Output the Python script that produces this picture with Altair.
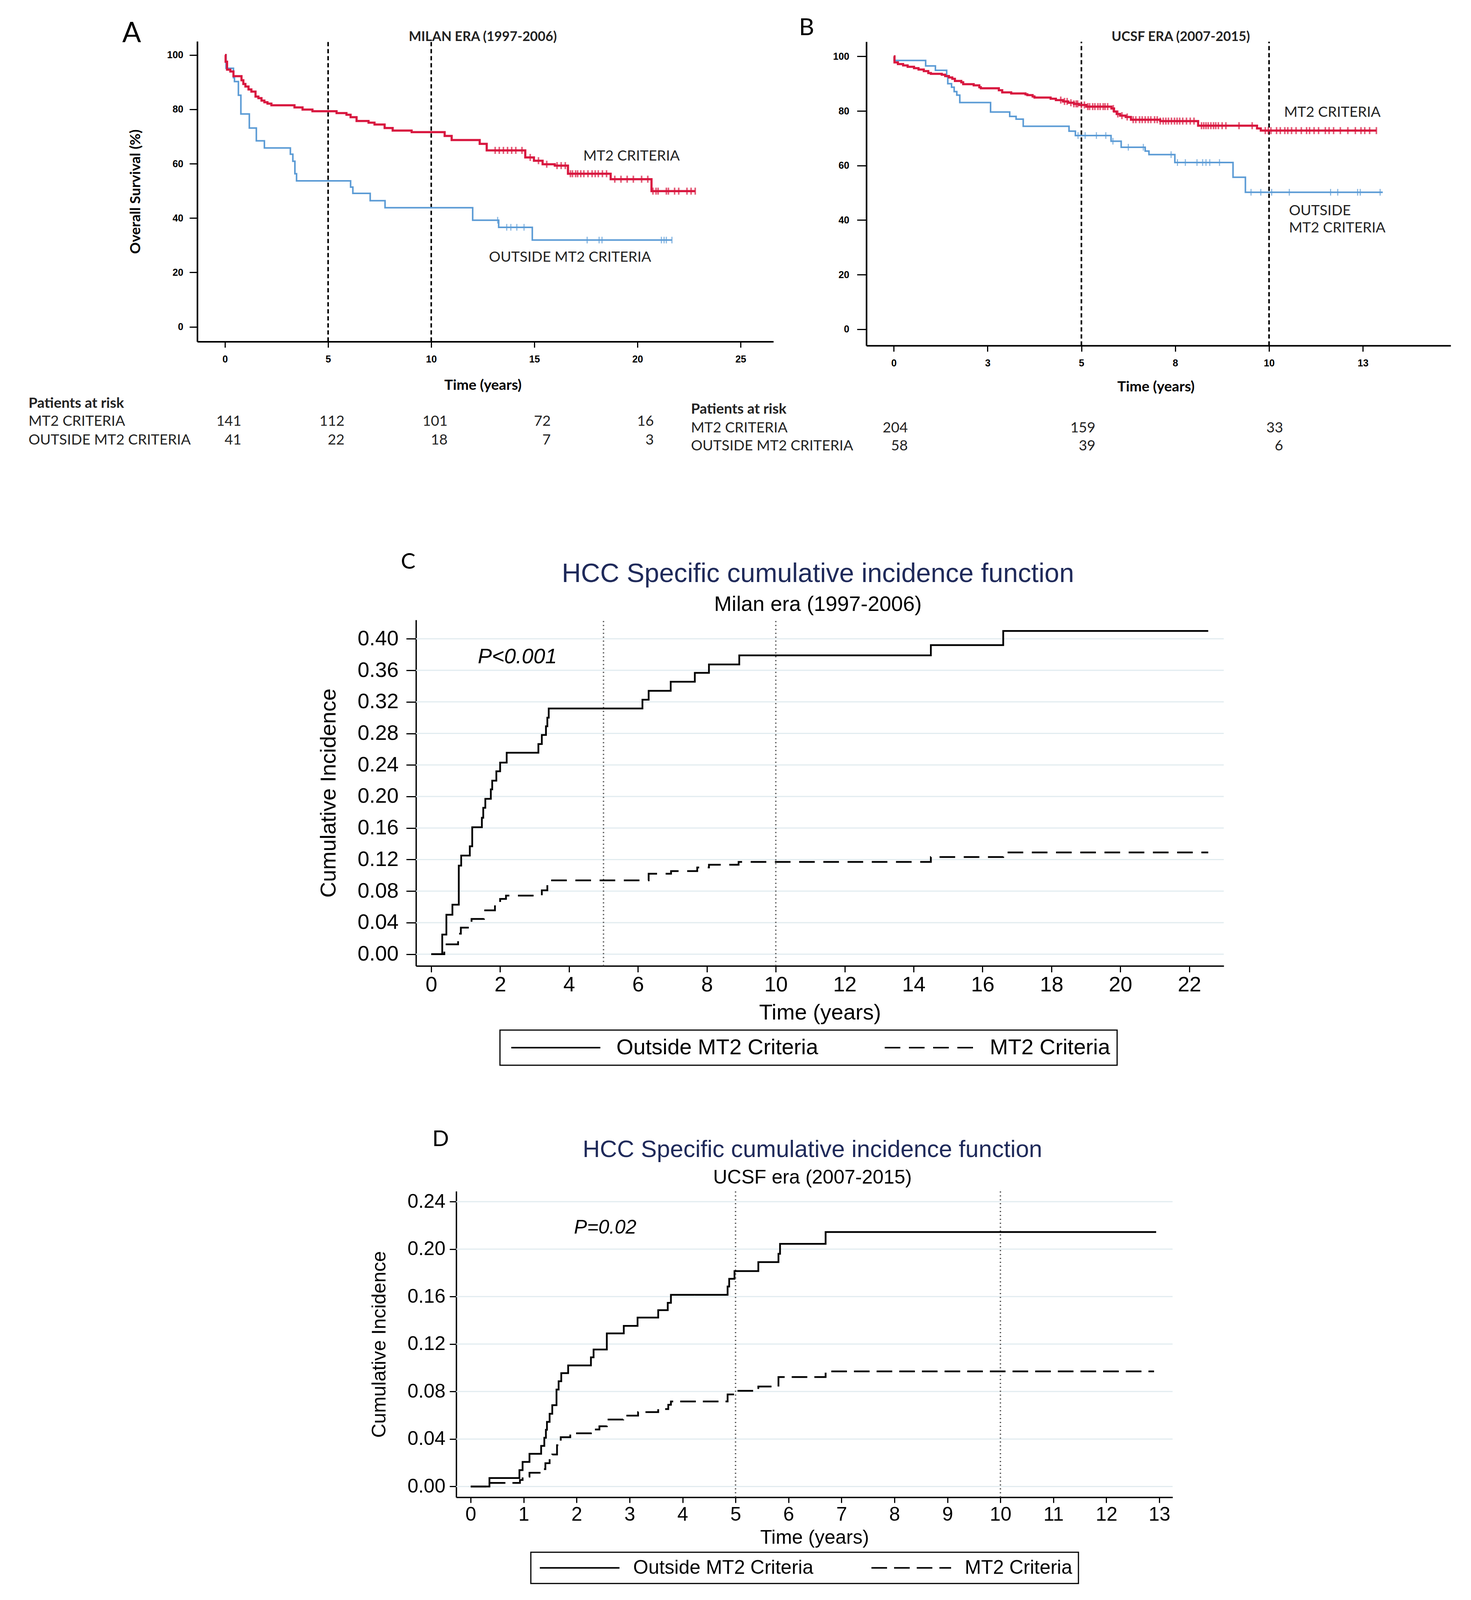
import altair as alt
import pandas as pd

# ---------------- data ----------------
MT2 = "MT2 CRITERIA"
OUT = "OUTSIDE MT2 CRITERIA"

# Panel A - Milan era (1997-2006): overall survival (%)
A_MT2_T = [0, 0.03, 0.10, 0.26, 0.41, 0.80, 0.89, 0.99, 1.14, 1.28, 1.48, 1.62, 1.77, 1.91, 2.06, 2.25,
           3.37, 3.76, 4.24, 5.41, 5.89, 6.09, 6.38, 6.96, 7.25, 7.74, 8.13, 9.05, 10.65, 10.99, 12.35,
           12.69, 14.56, 14.98, 15.40, 15.99, 16.63, 18.70, 20.68]
A_MT2_S = [100, 97.5, 94.6, 93.9, 92.2, 90.7, 89.3, 88.4, 87.3, 86.5, 84.7, 84.1, 83.2, 82.6, 82.1, 81.5,
           80.7, 79.9, 79.3, 78.6, 78.0, 77.1, 75.7, 75.1, 74.4, 73.1, 72.2, 71.6, 70.2, 68.7, 67.3,
           64.9, 62.3, 61.1, 59.8, 59.3, 56.3, 54.3, 49.9]
A_MT2_END = 22.8
A_MT2_CENS = [13.1, 13.3, 13.5, 13.7, 13.9, 14.1, 14.4, 14.8, 15.2, 15.6, 16.1, 16.3, 16.5, 16.75, 16.85,
              17.0, 17.1, 17.25, 17.4, 17.6, 17.8, 17.95, 18.1, 18.3, 18.5, 18.9, 19.2, 19.5, 19.8, 20.2,
              20.5, 20.75, 20.9, 21.0, 21.4, 21.5, 21.8, 22.0, 22.4, 22.6, 22.8]
A_OUT_T = [0, 0.05, 0.41, 0.46, 0.65, 0.77, 1.18, 1.52, 1.91, 3.17, 3.29, 3.39, 3.47, 6.09, 6.20, 7.04,
           7.76, 12.01, 13.27, 14.90]
A_OUT_S = [100, 95.1, 91.6, 90.2, 85.2, 78.3, 73.1, 68.4, 65.8, 63.5, 60.9, 56.3, 53.7, 51.4, 49.1, 46.4,
           43.8, 39.2, 36.6, 31.9]
A_OUT_END = 21.67
A_OUT_CENS = [13.22, 13.66, 13.86, 14.15, 14.5, 17.56, 18.14, 18.28, 21.16, 21.29, 21.4, 21.67]

# Panel B - UCSF era (2007-2015): overall survival (%)
B_MT2_T = [0, 0.02, 0.11, 0.25, 0.37, 0.54, 0.66, 0.80, 0.92, 0.99, 1.28, 1.37, 1.47, 1.56, 1.63, 1.80,
           1.85, 2.13, 2.28, 2.32, 2.80, 2.89, 3.13, 3.51, 3.56, 3.70, 3.75, 4.18, 4.32, 4.51, 4.65, 4.80,
           4.94, 5.13, 5.80, 5.87, 5.94, 6.03, 6.18, 6.32, 7.10, 8.11, 9.68, 9.78]
B_MT2_S = [100, 97.8, 97.2, 96.7, 96.2, 95.7, 95.2, 94.6, 93.9, 93.6, 93.3, 92.8, 92.3, 91.8, 91.0, 90.5,
           89.8, 89.4, 88.7, 88.3, 87.6, 86.8, 86.4, 86.1, 85.8, 85.3, 84.9, 84.5, 84.0, 83.5, 83.0, 82.6,
           82.2, 81.6, 80.9, 79.8, 78.9, 78.3, 77.8, 76.8, 76.3, 74.6, 73.6, 72.8]
B_MT2_END = 12.86
B_MT2_CENS = [4.45, 4.55, 4.62, 4.72, 4.8, 4.86, 4.9, 5.0, 5.08, 5.17, 5.22, 5.3, 5.36, 5.44, 5.5, 5.58,
              5.63, 5.7, 5.85, 5.97, 6.08, 6.22, 6.38, 6.45, 6.55, 6.62, 6.7, 6.78, 6.85, 6.95, 7.02, 7.1,
              7.18, 7.25, 7.32, 7.4, 7.48, 7.55, 7.62, 7.7, 7.8, 7.9, 8.0, 8.2, 8.26, 8.32, 8.38, 8.45,
              8.52, 8.58, 8.65, 8.75, 8.85, 9.2, 9.55, 9.9, 9.98, 10.05, 10.2, 10.3, 10.42, 10.5, 10.6,
              10.72, 10.86, 11.0, 11.08, 11.2, 11.32, 11.5, 11.6, 11.72, 11.9, 12.1, 12.3, 12.45, 12.55,
              12.68, 12.86]
B_OUT_T = [0, 0.01, 0.85, 1.11, 1.41, 1.44, 1.54, 1.61, 1.68, 1.76, 2.58, 3.09, 3.26, 3.45, 4.67, 4.84,
           5.79, 6.06, 6.70, 6.80, 7.49, 9.04, 9.37]
B_OUT_S = [100, 98.5, 96.5, 94.9, 92.6, 90.0, 88.7, 87.1, 85.8, 83.1, 79.6, 78.0, 77.0, 74.4, 72.6, 71.0,
           68.9, 66.7, 65.3, 64.0, 61.1, 55.7, 50.2]
B_OUT_END = 13.03
B_OUT_CENS = [4.91, 5.10, 5.40, 5.65, 5.84, 6.25, 6.65, 7.39, 7.56, 7.77, 8.08, 8.23, 8.32, 8.42, 8.68,
              9.52, 9.78, 10.07, 10.54, 11.64, 11.83, 12.36, 12.43, 12.96]

# Patients at risk
RISK_A_T = [0, 5, 10, 15, 20]
RISK_A_MT2 = [141, 112, 101, 72, 16]
RISK_A_OUT = [41, 22, 18, 7, 3]
RISK_B_T = [0, 5, 10]
RISK_B_MT2 = [204, 159, 33]
RISK_B_OUT = [58, 39, 6]

# Panel C - Milan era, HCC specific cumulative incidence
C_OUT_T = [0, 0.32, 0.44, 0.615, 0.80, 0.87, 1.12, 1.19, 1.47, 1.51, 1.57, 1.73, 1.77, 1.89, 2.0, 2.19,
           3.11, 3.21, 3.33, 3.37, 3.41, 6.13, 6.31, 6.95, 7.65, 8.06, 8.94, 14.5, 16.6]
C_OUT_V = [0, 0.0248, 0.050, 0.0628, 0.1123, 0.125, 0.1368, 0.161, 0.173, 0.1856, 0.197, 0.209, 0.220,
           0.232, 0.243, 0.2555, 0.2665, 0.278, 0.289, 0.300, 0.3116, 0.3227, 0.334, 0.3455, 0.3568,
           0.3675, 0.379, 0.392, 0.41]
C_MT2_T = [0, 0.38, 0.78, 0.86, 1.17, 1.53, 1.85, 2.0, 2.17, 3.21, 3.37, 6.31, 6.96, 7.72, 8.06, 8.92,
           14.5, 16.6]
C_MT2_V = [0, 0.0124, 0.026, 0.0336, 0.0446, 0.0556, 0.066, 0.070, 0.0743, 0.081, 0.0936, 0.102, 0.1054,
           0.110, 0.1134, 0.117, 0.1232, 0.129]
C_END = 22.55

# Panel D - UCSF era, HCC specific cumulative incidence
D_OUT_T = [0, 0.354, 0.92, 0.98, 1.11, 1.33, 1.39, 1.42, 1.44, 1.49, 1.54, 1.62, 1.66, 1.71, 1.84, 2.27,
           2.32, 2.57, 2.89, 3.15, 3.54, 3.72, 3.78, 4.85, 4.88, 4.98, 5.43, 5.81, 5.84, 6.70]
D_OUT_V = [0, 0.0071, 0.0138, 0.0207, 0.0275, 0.0342, 0.041, 0.0478, 0.0544, 0.0613, 0.0685, 0.0817,
           0.0887, 0.0955, 0.102, 0.1088, 0.1154, 0.129, 0.1353, 0.1423, 0.1486, 0.1547, 0.1615, 0.1685,
           0.175, 0.1815, 0.189, 0.196, 0.2044, 0.2144]
D_OUT_END = 12.94
D_MT2_T = [0, 0.354, 0.93, 0.98, 1.11, 1.36, 1.41, 1.49, 1.54, 1.63, 1.70, 1.88, 2.27, 2.43, 2.57, 2.88,
           3.16, 3.54, 3.73, 3.78, 4.85, 4.98, 5.43, 5.81, 6.70]
D_MT2_V = [0, 0.003, 0.0055, 0.0083, 0.0116, 0.0146, 0.0196, 0.0249, 0.027, 0.0348, 0.0415, 0.0448, 0.048,
           0.0507, 0.0564, 0.0597, 0.0627, 0.0652, 0.0688, 0.0716, 0.0776, 0.0806, 0.0842, 0.0922, 0.097]
D_MT2_END = 12.9

# axes / reference lines
A_XTICKS = [0, 5, 10, 15, 20, 25]
B_XTICKS = [0, 2.5, 5, 7.5, 10, 12.5]
KM_YTICKS = [0, 20, 40, 60, 80, 100]
C_XTICKS = [0, 2, 4, 6, 8, 10, 12, 14, 16, 18, 20, 22]
C_YTICKS = [0.0, 0.04, 0.08, 0.12, 0.16, 0.20, 0.24, 0.28, 0.32, 0.36, 0.40]
D_XTICKS = [0, 1, 2, 3, 4, 5, 6, 7, 8, 9, 10, 11, 12, 13]
D_YTICKS = [0.0, 0.04, 0.08, 0.12, 0.16, 0.20, 0.24]
REF_T = [5, 10]

# ---------------- styles / layout ----------------
KM_FONT = "Lato"
TICK_FONT = "Liberation Sans"
ST_FONT = "Liberation Sans"
RED = "#d8173f"
BLUE = "#5b9bd5"
NAVY = "#1f2a5a"
GRID = "#e2ecf0"
M = 8                      # page margin
SY = 0.79                  # vertical layout factor so the whole figure fits the photographed area
FS = 0.9                   # font factor
W, H = 3750, 4080          # drawing frame
ONE = pd.DataFrame({"d": [0]})


def step_df(ts, vs, end, name):
    return pd.DataFrame({"t": list(ts) + [end], "v": list(vs) + [vs[-1]], "g": name})


def level_at(ts, vs, t):
    lv = vs[0]
    for tt, vv in zip(ts, vs):
        if tt <= t:
            lv = vv
    return lv


def cens_df(ts, vs, cens, name):
    return pd.DataFrame({"t": cens, "v": [level_at(ts, vs, c) for c in cens], "g": name})


def label(text, x, y, size, font=KM_FONT, weight="normal", align="left", color="black", style="normal"):
    return alt.Chart(ONE).mark_text(
        text=text, font=font, fontSize=size, fontWeight=weight, align=align,
        baseline="middle", color=color, fontStyle=style
    ).encode(x=alt.value(x), y=alt.value(y))


def frame(c):
    return c["L"] - M, c["T"] * SY - M, c["R"] - M, c["B"] * SY - M


def km_panel(c):
    L, T, R, B = frame(c)
    xaxis = dict(values=c["xticks"], grid=False, title="Time (years)", orient="bottom", offset=B - H,
                 domainColor="black", domainWidth=4, tickColor="black", tickWidth=3, tickSize=15,
                 labelFont=TICK_FONT, labelFontSize=25, labelFontWeight="bold", labelColor="black",
                 labelPadding=18, titleFont=KM_FONT, titleFontSize=37, titleFontWeight="bold",
                 titleColor="black", titleX=L + c["xtitle"][0], titleY=c["xtitle"][1] * SY,
                 titleAlign="center", titleBaseline="middle")
    if c.get("xexpr"):
        xaxis["labelExpr"] = c["xexpr"]
    X = alt.X("t:Q", scale=alt.Scale(domain=c["xdom"], range=[L, R], nice=False, zero=False),
              axis=alt.Axis(**xaxis))
    yaxis = dict(values=KM_YTICKS, grid=False, orient="left", offset=-L, domainColor="black",
                 domainWidth=4, tickColor="black", tickWidth=3, tickSize=c["ytick"], labelFont=TICK_FONT,
                 labelFontSize=25, labelFontWeight="bold", labelColor="black", labelPadding=c["ypad"])
    if c.get("ytitle"):
        yaxis.update(title=c["ytitle"], titleFont=KM_FONT, titleFontSize=37, titleFontWeight="bold",
                     titleColor="black", titleX=-158, titleY=(T + B) / 2, titleAlign="center",
                     titleBaseline="middle")
    else:
        yaxis["title"] = None
    Y = alt.Y("v:Q", scale=alt.Scale(domain=c["ydom"], range=[B, T], nice=False, zero=False),
              axis=alt.Axis(**yaxis))

    ref = alt.Chart(pd.DataFrame({"t": REF_T, "v": [c["ydom"][0]] * 2, "v2": [c["ydom"][1]] * 2})).mark_rule(
        color="black", strokeDash=[11, 7], strokeWidth=4).encode(x=X, y=Y, y2="v2:Q")
    out_line = alt.Chart(step_df(*c["out"])).mark_line(
        interpolate="step-after", color=BLUE, strokeWidth=4).encode(x=X, y=Y)
    mt2_line = alt.Chart(step_df(*c["mt2"])).mark_line(
        interpolate="step-after", color=RED, strokeWidth=5.5).encode(x=X, y=Y)
    out_c = alt.Chart(cens_df(c["out"][0], c["out"][1], c["out_c"], OUT)).mark_tick(
        orient="vertical", color=BLUE, size=17, thickness=3).encode(x=X, y=Y)
    mt2_c = alt.Chart(cens_df(c["mt2"][0], c["mt2"][1], c["mt2_c"], MT2)).mark_tick(
        orient="vertical", color=RED, size=18, thickness=4).encode(x=X, y=Y)
    lab = alt.Chart(pd.DataFrame(c["labels"])).mark_text(
        font=KM_FONT, fontSize=37, align="left", baseline="middle", color="#222222"
    ).encode(x=X, y=Y, text="txt:N")

    rt, rm, ro = c["risk"]
    ry = [T + v * SY for v in c["risk_y"]]
    rx = L + c["risk_x"]
    risk_m = alt.Chart(pd.DataFrame({"t": rt, "n": rm})).mark_text(
        font=KM_FONT, fontSize=37, align="right", baseline="middle", dx=c["rdx"], color="#222222"
    ).encode(x=X, y=alt.value(ry[1]), text="n:Q")
    risk_o = alt.Chart(pd.DataFrame({"t": rt, "n": ro})).mark_text(
        font=KM_FONT, fontSize=37, align="right", baseline="middle", dx=c["rdx"], color="#222222"
    ).encode(x=X, y=alt.value(ry[2]), text="n:Q")

    layers = [ref, out_line, mt2_line, out_c, mt2_c, lab, risk_m, risk_o,
              label("Patients at risk", rx, ry[0], 37, weight="bold", color="#222222"),
              label("MT2 CRITERIA", rx, ry[1], 37, color="#222222"),
              label("OUTSIDE MT2 CRITERIA", rx, ry[2], 37, color="#222222"),
              label(c["title"], L + c["title_xy"][0], T + c["title_xy"][1] * SY, 34, weight="bold",
                    align="center", color="#222222"),
              label(c["letter"], L + c["letter_xy"][0], T + c["letter_xy"][1] * SY,
                    c["letter_size"] * FS, align="center")]
    return alt.layer(*layers)


def cif_panel(c):
    L, T, R, B = frame(c)
    lab = round(c["lab"] * FS)
    tit = round(c["tit"] * FS)
    X = alt.X("t:Q", scale=alt.Scale(domain=c["xdom"], range=[L, R], nice=False, zero=False),
              axis=alt.Axis(values=c["xticks"], format="d", grid=False, title="Time (years)",
                            orient="bottom", offset=B - H,
                            domainColor="black", domainWidth=3.5, tickColor="black", tickWidth=3,
                            tickSize=c["xtick"], labelFont=ST_FONT, labelFontSize=lab,
                            labelColor="black", labelPadding=c["xpad"], titleFont=ST_FONT,
                            titleFontSize=tit, titleFontWeight="normal", titleColor="black",
                            titleX=(L + R) / 2, titleY=c["xtitle_y"], titleAlign="center",
                            titleBaseline="middle"))
    Y = alt.Y("v:Q", scale=alt.Scale(domain=c["ydom"], range=[B, T], nice=False, zero=False),
              axis=alt.Axis(values=c["yticks"], format=".2f", grid=False, orient="left", offset=-L,
                            title="Cumulative Incidence", domainColor="black", domainWidth=3.5,
                            tickColor="black", tickWidth=3, tickSize=c["ytick"], labelFont=ST_FONT,
                            labelFontSize=lab, labelColor="black", labelPadding=c["ypad"],
                            titleFont=ST_FONT, titleFontSize=tit, titleFontWeight="normal",
                            titleColor="black", titleX=c["ytitle_x"], titleY=(T + B) / 2,
                            titleAlign="center", titleBaseline="middle"))
    grid = alt.Chart(pd.DataFrame({"v": c["yticks"], "t": [c["xdom"][0]] * len(c["yticks"]),
                                   "t2": [c["xdom"][1]] * len(c["yticks"])})).mark_rule(
        color=GRID, strokeWidth=3).encode(x=X, x2="t2:Q", y=Y)
    lines = pd.concat([step_df(*c["out"]), step_df(*c["mt2"])])
    lg = c["legend"]
    dash = alt.StrokeDash(
        "g:N",
        scale=alt.Scale(domain=["Outside MT2 Criteria", "MT2 Criteria"], range=[[1, 0], c["dash"]]),
        legend=alt.Legend(title=None, orient="none", legendX=lg["x"] - M, legendY=lg["y"] * SY - M,
                          direction="horizontal", strokeColor="black", padding=lg["pad"],
                          symbolType="M-5,0H5", symbolSize=lg["size"], symbolStrokeWidth=4,
                          symbolStrokeColor="black", symbolOffset=lg["soff"], labelOffset=lg["loff"],
                          labelFont=ST_FONT, labelFontSize=lg["font"], labelColor="black",
                          labelLimit=2000, columnPadding=lg["cpad"]))
    ref = alt.Chart(pd.DataFrame({"t": REF_T, "v": [c["ydom"][0]] * 2, "v2": [c["ydom"][1]] * 2})).mark_rule(
        color="#555555", strokeDash=[3, 7], strokeWidth=3.5).encode(x=X, y=Y, y2="v2:Q")
    line = alt.Chart(lines).mark_line(interpolate="step-after", color="black", strokeWidth=4.5).encode(
        x=X, y=Y, strokeDash=dash)
    ptxt = alt.Chart(pd.DataFrame({"t": [c["p"][0]], "v": [c["p"][1]]})).mark_text(
        text=c["p"][2], font=ST_FONT, fontSize=lab, fontStyle="italic", align="center",
        baseline="middle", color="black").encode(x=X, y=Y)
    cx = (L + R) / 2 - 5
    layers = [grid, ref, line, ptxt,
              label("HCC Specific cumulative incidence function", cx, T + c["title_y"] * SY,
                    round(c["tsize"] * FS), font=ST_FONT, align="center", color=NAVY),
              label(c["sub"], cx, T + c["sub_y"] * SY, round(c["ssize"] * FS), font=ST_FONT,
                    align="center"),
              label(c["letter"], L + c["letter_xy"][0], T + c["letter_xy"][1] * SY, 56, align="center")]
    return alt.layer(*layers)


panel_a = km_panel(dict(
    L=505, T=134, R=1980, B=1107, xdom=[-1.345, 26.59], ydom=[-5.45, 105.0], xticks=A_XTICKS,
    xtitle=(731, 142), ytitle="Overall Survival (%)", ytick=20, ypad=16,
    out=(A_OUT_T, A_OUT_S, A_OUT_END, OUT), mt2=(A_MT2_T, A_MT2_S, A_MT2_END, MT2),
    out_c=A_OUT_CENS, mt2_c=A_MT2_CENS,
    labels={"t": [17.37, 12.8], "v": [62.7, 25.5], "txt": ["MT2 CRITERIA", "OUTSIDE MT2 CRITERIA"]},
    risk=(RISK_A_T, RISK_A_MT2, RISK_A_OUT), risk_y=(1174, 1232, 1292), risk_x=-432, rdx=42,
    title="MILAN  ERA (1997-2006)", title_xy=(731, -14), letter="A", letter_xy=(-168, -24),
    letter_size=79))

panel_b = km_panel(dict(
    L=2218, T=135, R=3714, B=1120, xdom=[-0.73, 14.84], ydom=[-6.0, 105.4], xticks=B_XTICKS,
    xexpr="round(datum.value)", xtitle=(741, 134), ytitle=None, ytick=24, ypad=20,
    out=(B_OUT_T, B_OUT_S, B_OUT_END, OUT), mt2=(B_MT2_T, B_MT2_S, B_MT2_END, MT2),
    out_c=B_OUT_CENS, mt2_c=B_MT2_CENS,
    labels={"t": [10.4, 10.53, 10.53], "v": [79.4, 43.4, 37.0],
            "txt": ["MT2 CRITERIA", "OUTSIDE", "MT2 CRITERIA"]},
    risk=(RISK_B_T, RISK_B_MT2, RISK_B_OUT), risk_y=(1192, 1252, 1310), risk_x=-449, rdx=36,
    title="UCSF ERA (2007-2015)", title_xy=(805, -15), letter="B", letter_xy=(-153, -44),
    letter_size=67))

panel_c = cif_panel(dict(
    L=1065, T=2009, R=3133, B=3130, xdom=[-0.442, 23.0], ydom=[-0.0149, 0.4239], xticks=C_XTICKS,
    yticks=C_YTICKS, xtick=16, ytick=25, xpad=6, ypad=20, lab=60, tit=62, xtitle_y=120,
    ytitle_x=-224,
    out=(C_OUT_T, C_OUT_V, C_END, "Outside MT2 Criteria"), mt2=(C_MT2_T, C_MT2_V, C_END, "MT2 Criteria"),
    dash=[40, 22], p=(2.5, 0.377, "P<0.001"), title_y=-148, sub_y=-49, tsize=76, ssize=60,
    sub="Milan era (1997-2006)", letter="C", letter_xy=(-20, -188),
    legend=dict(x=1280, y=3338, pad=17, size=2079, soff=98, loff=127, font=56, cpad=158)))

panel_d = cif_panel(dict(
    L=1168, T=3860, R=3002, B=4852, xdom=[-0.273, 13.25], ydom=[-0.0091, 0.2488], xticks=D_XTICKS,
    yticks=D_YTICKS, xtick=14, ytick=17, xpad=5, ypad=11, lab=55, tit=55, xtitle_y=103,
    ytitle_x=-197,
    out=(D_OUT_T, D_OUT_V, D_OUT_END, "Outside MT2 Criteria"),
    mt2=(D_MT2_T, D_MT2_V, D_MT2_END, "MT2 Criteria"),
    dash=[40, 18], p=(2.54, 0.218, "P=0.02"), title_y=-134, sub_y=-43, tsize=68, ssize=55,
    sub="UCSF era (2007-2015)", letter="D", letter_xy=(-40, -167),
    legend=dict(x=1359, y=5030, pad=15, size=1665, soff=85, loff=112, font=50, cpad=139)))

chart = alt.layer(panel_a, panel_b, panel_c, panel_d).resolve_scale(
    x="independent", y="independent", strokeDash="independent"
).resolve_legend(strokeDash="independent").properties(
    width=W, height=H, padding=0
).configure_view(stroke=None).configure_legend(strokeWidth=3)

chart.save("out.html", embed_options={"renderer": "svg", "actions": False})
